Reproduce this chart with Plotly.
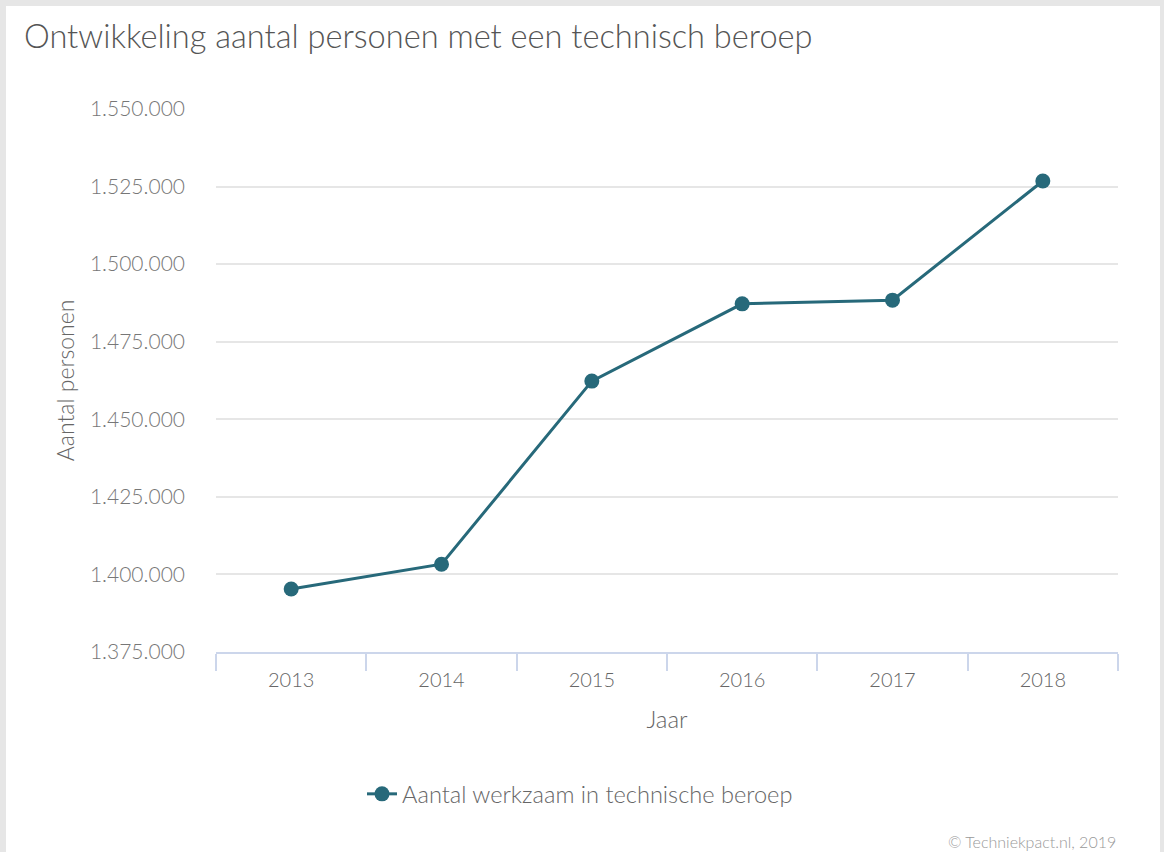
import plotly.graph_objects as go

years = ["2013", "2014", "2015", "2016", "2017", "2018"]
werkzaam = [1395300, 1403300, 1462300, 1487200, 1488400, 1526800]
y_ticks = [1375000, 1400000, 1425000, 1450000, 1475000, 1500000, 1525000, 1550000]
y_tick_labels = ["1.375.000", "1.400.000", "1.425.000", "1.450.000", "1.475.000",
                 "1.500.000", "1.525.000", "1.550.000"]

W, H = 1164, 852
L, R, T, B = 216, 1118, 109, 652
pw, ph = R - L, B - T

def px(x):
    return (x - L) / pw

def py(y):
    return (B - y) / ph

FONT = "Lato"
LINE = "#27697a"

fig = go.Figure()
fig.add_trace(go.Scatter(
    x=years, y=werkzaam, mode="lines+markers",
    name="Aantal werkzaam in technische beroep",
    line=dict(color=LINE, width=3),
    marker=dict(color=LINE, size=15),
))

fig.update_layout(
    width=W, height=H,
    margin=dict(l=L, r=W - R, t=T, b=H - B, pad=0),
    paper_bgcolor="#e6e6e6",
    plot_bgcolor="rgba(0,0,0,0)",
    font=dict(family=FONT, color="#666666", weight=300),
    title=dict(
        text="Ontwikkeling aantal personen met een technisch beroep",
        x=24 / W, xanchor="left", xref="container",
        y=1 - 37 / H, yanchor="middle", yref="container",
        font=dict(family=FONT, size=32.6, color="#555555", weight=300),
    ),
    showlegend=True,
    legend=dict(
        orientation="h", x=px(580), xanchor="center", y=py(794), yanchor="middle",
        font=dict(family=FONT, size=23.6, color="#666666", weight=300),
        bgcolor="rgba(0,0,0,0)", itemwidth=30,
    ),
    xaxis=dict(
        type="category", range=[-0.5, 5.5],
        tickson="boundaries", ticks="outside", ticklen=17, tickcolor="#ccd6eb", tickwidth=1.5,
        showline=True, linecolor="#ccd6eb", linewidth=1.5,
        showgrid=False, zeroline=False,
        ticklabelstandoff=9,
        tickfont=dict(family=FONT, size=20, color="#666666", weight=300),
        title=dict(text="Jaar", standoff=21,
                   font=dict(family=FONT, size=24, color="#666666", weight=300)),
    ),
    yaxis=dict(
        range=[1375000, 1550000],
        tickvals=y_ticks, ticktext=y_tick_labels,
        showgrid=True, gridcolor="#e6e6e6", gridwidth=1.5,
        showline=False, zeroline=False, ticks="",
        ticklabelstandoff=30,
        tickfont=dict(family=FONT, size=21, color="#777777", weight=300),
        title=dict(text="Aantal personen", standoff=8,
                   font=dict(family=FONT, size=23, color="#666666", weight=300)),
    ),
    shapes=[dict(
        type="rect", xref="paper", yref="paper", layer="below",
        x0=px(6), x1=px(1160), y0=py(900), y1=py(6),
        fillcolor="white", line=dict(width=0),
    )],
    annotations=[dict(
        text="© Techniekpact.nl, 2019", xref="paper", yref="paper",
        x=px(1118), xanchor="right", y=py(841), yanchor="middle",
        showarrow=False, font=dict(family=FONT, size=16, color="#999999", weight=300),
    )],
)

fig.write_html(
    "out.html",
    config={"displayModeBar": False},
    post_script="document.body.style.margin='0';document.body.style.overflow='hidden';",
)
